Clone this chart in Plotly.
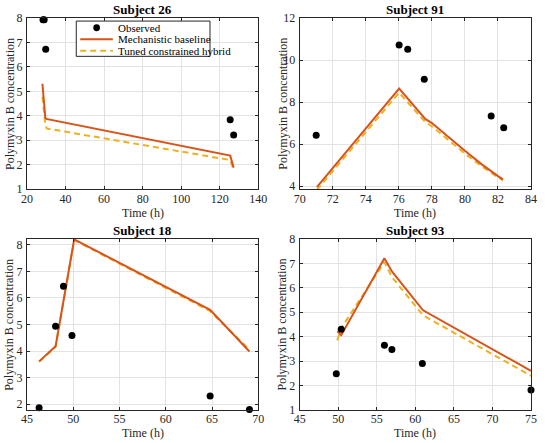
import plotly.graph_objects as go
from plotly.subplots import make_subplots

# Subject 26
s26_obs_t = [28.3, 28.9, 29.7, 125.4, 127.2]
s26_obs_c = [7.93, 7.93, 6.72, 3.84, 3.21]
s26_mech_t = [28.0, 29.5, 30.0, 125.4, 127.2]
s26_mech_c = [5.31, 3.93, 3.87, 2.37, 1.88]
s26_hyb_t = [28.0, 29.5, 30.2, 125.4, 127.2]
s26_hyb_c = [4.78, 3.65, 3.48, 2.19, 1.79]

# Subject 91
s91_obs_t = [71.0, 76.02, 76.54, 77.54, 81.59, 82.35]
s91_obs_c = [6.42, 10.72, 10.51, 9.09, 7.34, 6.78]
s91_mech_t = [71.04, 76.02, 77.6, 78.0, 80.0, 81.0, 82.0, 82.3]
s91_mech_c = [3.95, 8.64, 7.2, 7.0, 5.68, 5.05, 4.48, 4.32]
s91_hyb_t = [71.04, 76.02, 77.6, 78.0, 80.0, 81.0, 82.0, 82.3]
s91_hyb_c = [3.82, 8.45, 7.05, 6.85, 5.55, 4.95, 4.42, 4.28]

# Subject 18
s18_obs_t = [46.31, 48.09, 48.94, 49.86, 64.79, 69.04]
s18_obs_c = [1.86, 4.93, 6.44, 4.58, 2.31, 1.80]
s18_mech_t = [46.31, 48.09, 50.1, 64.79, 69.04]
s18_mech_c = [3.61, 4.18, 8.2, 5.55, 3.98]
s18_hyb_t = [46.31, 48.09, 50.1, 64.79, 69.04]
s18_hyb_c = [3.6, 4.15, 8.18, 5.5, 4.05]

# Subject 93
s93_obs_t = [49.75, 50.39, 55.99, 56.96, 60.91, 75.0]
s93_obs_c = [2.48, 4.30, 3.65, 3.47, 2.90, 1.82]
s93_mech_t = [49.88, 50.39, 55.99, 56.96, 61.0, 75.0]
s93_mech_c = [4.22, 4.06, 7.21, 6.67, 5.08, 2.60]
s93_hyb_t = [49.88, 50.39, 55.99, 56.96, 61.0, 75.0]
s93_hyb_c = [3.85, 4.35, 7.05, 6.44, 4.87, 2.40]

titles = ["Subject 26", "Subject 91", "Subject 18", "Subject 93"]
legend_labels = ["Observed", "Mechanistic baseline", "Tuned constrained hybrid"]

MECH = "#D95319"
HYB = "#EDB120"
AX = "#262626"
FONT = "Liberation Serif"

panels = [
    (s26_obs_t, s26_obs_c, s26_mech_t, s26_mech_c, s26_hyb_t, s26_hyb_c),
    (s91_obs_t, s91_obs_c, s91_mech_t, s91_mech_c, s91_hyb_t, s91_hyb_c),
    (s18_obs_t, s18_obs_c, s18_mech_t, s18_mech_c, s18_hyb_t, s18_hyb_c),
    (s93_obs_t, s93_obs_c, s93_mech_t, s93_mech_c, s93_hyb_t, s93_hyb_c),
]
x_ranges = [[20, 140], [70, 84], [45, 70], [45, 75]]
x_dticks = [20, 2, 5, 5]
y_ranges = [[1, 8], [3.86, 12], [1.78, 8.22], [1, 8]]
y_dticks = [1, 2, 1, 1]

fig = make_subplots(rows=2, cols=2, horizontal_spacing=0.082,
                    vertical_spacing=0.127)

for i, (ot, oc, mt, mc, ht, hc) in enumerate(panels):
    r, c = i // 2 + 1, i % 2 + 1
    fig.add_trace(go.Scatter(x=ht, y=hc, mode="lines", showlegend=False,
                             line=dict(color=HYB, width=2, dash="6px,4px")),
                  row=r, col=c)
    fig.add_trace(go.Scatter(x=mt, y=mc, mode="lines", showlegend=False,
                             line=dict(color=MECH, width=2)),
                  row=r, col=c)
    fig.add_trace(go.Scatter(x=ot, y=oc, mode="markers", showlegend=False,
                             cliponaxis=False,
                             marker=dict(color="black", size=7)),
                  row=r, col=c)
    fig.update_xaxes(range=x_ranges[i], dtick=x_dticks[i], row=r, col=c)
    fig.update_yaxes(range=y_ranges[i], dtick=y_dticks[i], row=r, col=c)

    sfx = "" if i == 0 else str(i + 1)
    xr, yr = "x%s domain" % sfx, "y%s domain" % sfx
    fig.add_annotation(text="<b>%s</b>" % titles[i], xref=xr, yref=yr,
                       x=0.5, y=1.047, xanchor="center", yanchor="middle",
                       showarrow=False, font=dict(size=13, color="black"))
    fig.add_annotation(text="Time (h)", xref=xr, yref=yr, x=0.5, y=-0.137,
                       xanchor="center", yanchor="middle",
                       showarrow=False, font=dict(size=12, color=AX))
    fig.add_annotation(text="Polymyxin B concentration", xref=xr, yref=yr,
                       x=-0.076, y=0.5, xanchor="center", yanchor="middle",
                       textangle=-90, showarrow=False,
                       font=dict(size=12, color=AX))

fig.update_xaxes(showline=True, linecolor=AX, linewidth=1, mirror="allticks",
                 ticks="inside", ticklen=3, tickcolor=AX,
                 ticklabelstandoff=-2,
                 showgrid=True, gridcolor="#e3e3e3", zeroline=False,
                 tickfont=dict(size=12, color=AX))
fig.update_yaxes(showline=True, linecolor=AX, linewidth=1, mirror="allticks",
                 ticks="inside", ticklen=3, tickcolor=AX,
                 ticklabelstandoff=1,
                 showgrid=True, gridcolor="#e3e3e3", zeroline=False,
                 tickfont=dict(size=12, color=AX))

# legend box drawn inside the first panel
fig.add_shape(type="rect", xref="x domain", yref="y domain",
              x0=0.213, x1=0.791, y0=0.776, y1=0.982,
              line=dict(color=AX, width=1), fillcolor="white", layer="above")
fig.add_shape(type="circle", xref="x domain", yref="y domain",
              x0=0.301 - 0.0145, x1=0.301 + 0.0145,
              y0=0.943 - 0.02, y1=0.943 + 0.02,
              line=dict(color="black", width=0), fillcolor="black",
              layer="above")
fig.add_shape(type="line", xref="x domain", yref="y domain",
              x0=0.230, x1=0.371, y0=0.876, y1=0.876,
              line=dict(color=MECH, width=2), layer="above")
fig.add_shape(type="line", xref="x domain", yref="y domain",
              x0=0.230, x1=0.371, y0=0.808, y1=0.808,
              line=dict(color=HYB, width=2, dash="6px,4px"), layer="above")
for lbl, yy in zip(legend_labels, [0.943, 0.876, 0.808]):
    fig.add_annotation(text=lbl, xref="x domain", yref="y domain",
                       x=0.386, y=yy, xanchor="left", yanchor="middle",
                       showarrow=False, font=dict(size=11, color="black"))

fig.update_layout(
    width=550, height=443,
    margin=dict(l=27, r=10, t=18, b=33),
    paper_bgcolor="white", plot_bgcolor="white",
    font=dict(family=FONT, color=AX),
)

# the page body has a default 8px margin, drop it so the figure sits at 0,0
fig.write_html("out.html", config={"displayModeBar": False},
               post_script="document.body.style.margin='0';")
